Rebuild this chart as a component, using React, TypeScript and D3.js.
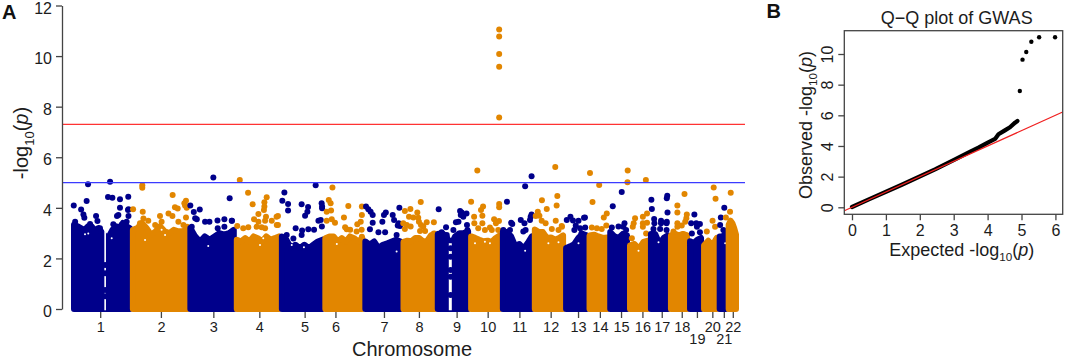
import React, { useRef, useEffect } from 'react';
import * as d3 from 'd3';

const BLUE = '#00008b';
const ORANGE = '#e28600';
const INK = '#1c1c1c';
const AXIS = '#444444';
const FONT = '"Liberation Sans", Arial, sans-serif';

// genotyped span of each chromosome in Mb
const chromLabels = ['1', '2', '3', '4', '5', '6', '7', '8', '9', '10', '11', '12', '13', '14', '15', '16', '17', '18', '19', '20', '21', '22'];
const chromLengths = [256, 250, 202, 196, 189, 174, 166, 149, 145, 138, 139, 136, 102, 90, 86, 91, 87, 83, 61, 68, 39, 58];
const chromTicks = [127, 391, 619, 819, 1016, 1150, 1361, 1513, 1677, 1812, 1950, 2086, 2205, 2300, 2392, 2485, 2569, 2656, 2722, 2789, 2839, 2878];

// upper edge of the dense cloud along each chromosome
const chromTops = [
  [3.33, 3.27, 3.2, 3.13, 3.27, 3.27, 3.11, 3.2, 3.03, 2.87, 2.87, 3.13, 3.27, 3.2, 3.4, 3.27, 3.2],
  [3.13, 3.2, 3.4, 3.2, 2.94, 3.07, 3.27, 3.07, 3.0, 3.13, 3.07, 3.07, 3.2],
  [3.2, 2.87, 2.67, 2.87, 2.74, 2.87, 3.0, 2.94, 3.0, 3.13],
  [2.74, 2.67, 2.8, 2.67, 2.87, 2.8, 2.67, 2.87, 2.74, 2.8, 2.87],
  [2.87, 2.74, 2.41, 2.54, 2.41, 2.54, 2.41, 2.54, 2.67, 2.74],
  [2.8, 2.87, 2.87, 2.67, 2.8, 2.67, 2.87, 2.8, 2.67, 2.8],
  [2.67, 2.54, 2.67, 2.41, 2.54, 2.6, 2.67, 2.74, 2.67],
  [2.65, 2.7, 2.68, 2.81, 2.81, 2.68, 2.68, 2.91, 2.97],
  [2.97, 3.0, 2.87, 2.52, 2.87, 3.0, 3.0, 3.07],
  [2.87, 2.81, 2.74, 2.68, 2.7, 2.65, 2.81, 2.91],
  [3.04, 3.04, 2.87, 2.48, 2.57, 2.39, 2.61, 2.87],
  [3.14, 3.04, 3.04, 2.81, 2.83, 2.74, 2.81, 2.91],
  [2.41, 2.48, 2.57, 2.81, 2.97, 2.91],
  [2.91, 2.94, 2.87, 2.81, 2.83],
  [3.04, 2.87, 2.81, 2.97, 2.91],
  [2.52, 2.57, 2.38, 2.65, 2.7],
  [2.97, 2.97, 2.57, 2.81, 2.91],
  [2.91, 2.97, 2.91, 2.97, 2.91],
  [2.68, 2.61, 2.74, 2.81],
  [2.52, 2.7, 2.52, 2.81],
  [2.87, 2.87, 3.0],
  [3.33, 3.49, 3.4, 3.2, 2.94]
];

// centromere holes in the cloud: from Mb, to Mb, top value
const centromeres = [[145, 152, 3.15], [1643, 1656, 2.6]];

// small unfilled specks near the top of the cloud: [cumulative Mb, -log10 p]
const specks = [
  [75, 2.99], [394, 3.13], [322, 2.73], [409, 2.93], [61, 2.96], [597, 2.49], [177, 2.8], [836, 2.8], [960, 2.53], [1013, 2.44],
  [1156, 2.57], [1416, 2.27], [822, 2.53], [1800, 2.66], [1822, 2.6], [1757, 2.6], [1975, 2.3], [2076, 2.6], [2120, 2.64],
  [2207, 2.6], [2468, 2.3], [2555, 2.64], [2845, 2.6]
];

// single variants standing clear of the cloud: [cumulative Mb, -log10 p]
const hits = [
  [12, 4.09], [44, 3.93], [54, 3.74], [58, 3.61], [74, 4.93], [68, 4.27], [109, 3.68], [115, 3.48], [170, 5.03], [161, 4.43],
  [180, 4.4], [213, 4.34], [213, 4.0], [206, 3.72], [200, 3.68], [248, 3.91], [250, 3.94], [249, 4.44], [250, 3.68], [242, 3.45],
  [220, 3.32], [184, 3.35], [18, 3.45], [83, 3.36], [126, 3.19], [148, 1.74], [148, 1.41], [148, 0.75], [148, 0.5],
  [310, 4.89], [310, 4.79], [270, 3.94], [312, 3.85], [442, 4.51], [452, 4.02], [464, 3.97], [496, 4.09], [500, 4.28], [493, 4.18], [503, 4.0],
  [500, 3.62], [424, 3.78], [441, 3.68], [387, 3.68], [315, 3.58], [336, 3.49], [300, 3.39], [394, 3.45], [467, 3.45], [489, 3.32], [505, 3.25], [366, 3.32],
  [519, 4.09], [534, 3.84], [560, 3.93], [547, 3.55], [540, 3.59], [522, 2.99], [525, 3.25], [583, 3.45], [602, 3.45], [637, 3.5], [667, 3.55], [699, 3.49],
  [619, 5.2], [638, 3.19], [667, 3.25], [690, 4.38], [700, 3.49],
  [734, 5.1], [770, 4.6], [790, 4.14], [851, 4.42], [841, 4.22], [841, 4.05], [839, 3.91], [815, 3.76], [796, 3.55], [848, 3.65], [844, 3.49], [873, 3.49],
  [894, 3.65], [900, 3.68], [895, 3.32], [900, 3.32], [749, 3.19], [771, 3.23], [807, 3.25], [829, 3.23], [723, 3.28], [844, 3.19], [815, 3.45],
  [928, 4.61], [919, 4.28], [944, 4.15], [944, 3.89], [1003, 4.14], [1031, 4.03], [1028, 3.85], [1018, 3.69], [977, 3.19], [1005, 3.1], [1032, 3.15], [1057, 3.13],
  [1076, 3.49], [1086, 3.52], [1064, 4.89], [938, 2.93], [967, 2.79], [1003, 2.93], [1091, 3.26], [1090, 4.18], [1092, 4.05], [1092, 3.98],
  [1137, 4.8], [1121, 4.31], [1129, 4.18], [1131, 3.89], [1112, 3.85], [1112, 3.49], [1134, 3.55], [1148, 3.41], [1206, 4.07], [1187, 3.62], [1245, 3.35],
  [1260, 3.45], [1265, 3.72], [1265, 4.05], [1192, 3.23], [1199, 3.15], [1214, 3.13], [1242, 3.06], [1264, 3.13], [1265, 2.86],
  [1283, 4.05], [1293, 3.94], [1303, 3.85], [1312, 3.72], [1312, 3.41], [1300, 3.15], [1337, 3.03], [1366, 3.03], [1369, 3.82], [1361, 3.72], [1354, 3.45],
  [1399, 3.72], [1405, 3.52], [1431, 3.28], [1428, 4.0], [1421, 3.3], [1425, 3.39], [1416, 2.93],
  [1452, 3.87], [1476, 3.95], [1506, 3.82], [1521, 4.23], [1470, 3.65], [1489, 3.62], [1510, 3.61], [1445, 3.39], [1460, 3.32], [1477, 3.26], [1522, 3.32],
  [1547, 3.43], [1532, 3.26], [1578, 3.43], [1513, 3.45], [1452, 3.16], [1540, 3.08], [1518, 3.08], [1578, 2.99],
  [1599, 3.94], [1631, 3.23], [1612, 3.03], [1634, 2.93], [1663, 3.12], [1685, 3.45], [1674, 3.43], [1692, 3.87], [1699, 3.82], [1706, 3.65], [1720, 3.78],
  [1695, 3.72], [1722, 3.32], [1724, 3.12], [1651, 2.4], [1651, 2.07], [1651, 1.54], [1651, 1.28], [1651, 0.55],
  [1767, 5.48], [1740, 4.24], [1753, 3.65], [1792, 4.05], [1783, 3.91], [1789, 3.69], [1754, 3.39], [1789, 3.39], [1840, 3.55], [1861, 3.48], [1848, 3.39],
  [1862, 4.15], [1862, 4.02], [1771, 3.19], [1822, 3.22], [1800, 3.12], [1830, 3.12], [1858, 3.12],
  [1862, 11.05], [1862, 10.77], [1862, 10.08], [1862, 9.58], [1862, 7.57],
  [1896, 4.24], [1914, 3.41], [1919, 3.36], [1956, 3.52], [1972, 3.39], [1996, 3.52], [1999, 3.65], [2003, 3.74], [1975, 4.85], [2003, 5.25], [1967, 3.06],
  [1977, 3.12], [1880, 3.12], [1909, 3.12],
  [2106, 5.61], [2115, 4.47], [2112, 4.09], [2048, 4.3], [2069, 3.95], [2030, 3.85], [2037, 3.69], [2021, 3.68], [2047, 3.49], [2064, 3.39], [2108, 3.49],
  [2134, 3.28], [2091, 3.16], [2120, 3.12], [2135, 3.25], [2138, 2.86],
  [2156, 3.52], [2172, 3.65], [2207, 3.49], [2231, 3.61], [2235, 3.62], [2214, 3.19], [2189, 3.12], [2236, 3.22], [2183, 3.5], [2220, 3.0], [2195, 3.3],
  [2257, 5.38], [2297, 4.9], [2268, 4.23], [2317, 3.62], [2330, 3.78], [2265, 3.22], [2287, 3.19], [2308, 3.16], [2328, 3.3],
  [2356, 4.06], [2395, 4.63], [2421, 5.48], [2420, 5.01], [2352, 3.22], [2381, 3.26], [2407, 3.39], [2402, 3.25], [2414, 3.12],
  [2500, 5.1], [2505, 3.78], [2453, 3.59], [2447, 3.39], [2443, 3.25], [2487, 3.65], [2487, 3.39], [2487, 3.25], [2505, 3.41], [2501, 2.99], [2439, 2.8],
  [2524, 4.32], [2526, 3.95], [2594, 3.82], [2591, 4.38], [2593, 4.48], [2536, 3.56], [2537, 3.39], [2566, 3.49], [2566, 3.39], [2591, 3.45], [2590, 3.39],
  [2533, 3.16], [2562, 3.16], [2590, 3.12],
  [2668, 4.55], [2637, 4.09], [2637, 3.82], [2637, 3.39], [2637, 3.25], [2656, 3.3], [2671, 3.45], [2676, 3.59], [2678, 3.74], [2620, 3.06],
  [2711, 3.74], [2697, 3.39], [2719, 3.39], [2722, 3.25], [2735, 3.36], [2700, 2.99], [2735, 3.03],
  [2795, 4.8], [2803, 4.36], [2790, 3.49], [2801, 3.25], [2765, 3.06],
  [2826, 3.62], [2841, 4.0], [2823, 3.32], [2837, 3.12],
  [2869, 4.6], [2866, 3.85], [2848, 3.62]
];

// Q-Q panel: the dense run drawn as a curve, the last points as dots
const qqCurveExpected = [0, 0.48, 1.47, 2.45, 3.04, 3.43, 3.73, 4.02, 4.22, 4.32, 4.51, 4.66, 4.81, 4.88];
const qqCurveObserved = [0.02, 0.5, 1.47, 2.47, 3.13, 3.56, 3.89, 4.24, 4.46, 4.76, 5.02, 5.22, 5.52, 5.63];
const qqTailExpected = [4.95, 5.03, 5.14, 5.29, 5.52, 5.99];
const qqTailObserved = [7.59, 9.63, 10.13, 10.8, 11.09, 11.09];

const manhattanTicks = [0, 2, 4, 6, 8, 10, 12];
const qqXTicks = [0, 1, 2, 3, 4, 5, 6];
const qqYTicks = [0, 2, 4, 6, 8, 10];

const styleAxis = (g, fontSize) => {
  g.selectAll('path').attr('stroke', AXIS).attr('stroke-width', 1.3);
  g.selectAll('line').attr('stroke', AXIS).attr('stroke-width', 1.3);
  g.selectAll('text').attr('fill', INK).style('font-family', FONT).style('font-size', fontSize + 'px');
};

// text with a subscripted 10 and an italic p
const logLabel = (sel, prefix, size) => {
  sel.attr('fill', INK).style('font-family', FONT).style('font-size', size + 'px').attr('text-anchor', 'middle');
  sel.append('tspan').text(prefix + 'log');
  sel.append('tspan').attr('dy', size * 0.28).style('font-size', size * 0.65 + 'px').text('10');
  sel.append('tspan').attr('dy', -size * 0.28).text('(');
  sel.append('tspan').style('font-style', 'italic').text('p');
  sel.append('tspan').text(')');
};

const App = () => {
  const ref = useRef(null);

  useEffect(() => {
    const svg = d3.select(ref.current);
    svg.selectAll('*').remove();

    // panel A
    const total = d3.sum(chromLengths);
    const chromEnds = d3.cumsum(chromLengths);
    const x = d3.scaleLinear().domain([0, total]).range([71, 739]);
    const y = d3.scaleLinear().domain([0, 12]).range([309, 5.5]);
    const r = 3;

    const area = d3.area().x(d => d[0]).y0(y(0)).y1(d => y(d[1]));
    chromTops.forEach((tops, i) => {
      const color = i % 2 === 0 ? BLUE : ORANGE;
      const start = i === 0 ? 0 : chromEnds[i - 1];
      const inChrom = p => p >= start && p < chromEnds[i];
      const left = x(start) + r;
      const right = i === chromTops.length - 1 ? x(chromEnds[i]) - r : x(chromEnds[i]);
      const step = d3.scaleLinear().domain([0, tops.length - 1]).range([left, right]);
      svg.append('path')
        .attr('d', area(tops.map((t, j) => [step(j), t])))
        .attr('fill', color)
        .attr('stroke', color)
        .attr('stroke-width', r * 2)
        .attr('stroke-linejoin', 'round');

      centromeres.filter(c => inChrom(c[0])).forEach(c => {
        svg.append('rect')
          .attr('x', x(c[0]))
          .attr('width', x(c[1]) - x(c[0]))
          .attr('y', y(c[2]))
          .attr('height', y(-0.05) - y(c[2]))
          .attr('fill', '#fff');
      });

      svg.selectAll('.speck' + i)
        .data(specks.filter(s => inChrom(s[0])))
        .enter().append('circle')
        .attr('cx', d => x(d[0]))
        .attr('cy', d => y(d[1]))
        .attr('r', 1)
        .attr('fill', '#fff');

      svg.selectAll('.hit' + i)
        .data(hits.filter(h => inChrom(h[0])))
        .enter().append('circle')
        .attr('cx', d => x(d[0]))
        .attr('cy', d => y(d[1]))
        .attr('r', r)
        .attr('fill', color);
    });

    // threshold lines
    [[7.3, '#ff3333'], [5, '#3b3bff']].forEach(([v, color]) => {
      svg.append('line')
        .attr('x1', 62).attr('x2', 745)
        .attr('y1', y(v)).attr('y2', y(v))
        .attr('stroke', color)
        .attr('stroke-width', 1.3);
    });

    const yAxis = svg.append('g')
      .attr('transform', 'translate(62,0)')
      .call(d3.axisLeft(y).tickValues(manhattanTicks).tickSize(6).tickPadding(4).tickSizeOuter(0));
    styleAxis(yAxis, 16);
    yAxis.selectAll('text').attr('dy', '0.48em');

    const xAxis = svg.append('g')
      .attr('transform', 'translate(0,312)')
      .call(d3.axisBottom(x).tickValues(chromTicks).tickFormat((d, i) => chromLabels[i]).tickSize(6).tickPadding(3.3));
    xAxis.select('.domain').remove();
    styleAxis(xAxis, 14.5);
    xAxis.selectAll('text').filter((d, i) => chromLabels[i] === '19' || chromLabels[i] === '21').attr('dy', '1.58em');

    svg.append('text')
      .attr('x', 412).attr('y', 356)
      .attr('text-anchor', 'middle')
      .attr('fill', INK)
      .style('font-family', FONT).style('font-size', '20px')
      .text('Chromosome');

    svg.append('text')
      .attr('transform', 'translate(28,143) rotate(-90)')
      .call(logLabel, '-', 20);

    svg.append('text').attr('x', 2).attr('y', 19).attr('fill', '#111')
      .style('font-family', FONT).style('font-size', '20px').style('font-weight', 'bold').text('A');

    // panel B
    const box = { left: 844.3, right: 1062.7, top: 30.7, bottom: 214.3 };
    const qx = d3.scaleLinear().domain([-0.227, 6.215]).range([box.left, box.right]);
    const qy = d3.scaleLinear().domain([-0.457, 11.52]).range([box.bottom, box.top]);

    svg.append('path')
      .datum(qqCurveExpected.map((e, i) => [e, qqCurveObserved[i]]))
      .attr('fill', 'none')
      .attr('stroke', '#000')
      .attr('stroke-width', 4.2)
      .attr('stroke-linecap', 'round')
      .attr('stroke-linejoin', 'round')
      .attr('d', d3.line().x(d => qx(d[0])).y(d => qy(d[1])));

    svg.selectAll('.tail')
      .data(qqTailExpected.map((e, i) => [e, qqTailObserved[i]]))
      .enter().append('circle')
      .attr('cx', d => qx(d[0]))
      .attr('cy', d => qy(d[1]))
      .attr('r', 2.2)
      .attr('fill', '#000');

    svg.append('line')
      .attr('x1', qx(-0.227)).attr('y1', qy(-0.227))
      .attr('x2', qx(6.215)).attr('y2', qy(6.215))
      .attr('stroke', '#f02020')
      .attr('stroke-width', 1.3);

    svg.append('rect')
      .attr('x', box.left).attr('y', box.top)
      .attr('width', box.right - box.left).attr('height', box.bottom - box.top)
      .attr('fill', 'none')
      .attr('stroke', AXIS)
      .attr('stroke-width', 1.3);

    const qxAxis = svg.append('g')
      .attr('transform', `translate(0,${box.bottom})`)
      .call(d3.axisBottom(qx).tickValues(qqXTicks).tickSize(6).tickPadding(4).tickFormat(d3.format('d')));
    qxAxis.select('.domain').remove();
    styleAxis(qxAxis, 16);

    const qyAxis = svg.append('g')
      .attr('transform', `translate(${box.left},0)`)
      .call(d3.axisLeft(qy).tickValues(qqYTicks).tickSize(6).tickPadding(4).tickFormat(d3.format('d')));
    qyAxis.select('.domain').remove();
    styleAxis(qyAxis, 16);
    qyAxis.selectAll('text')
      .attr('text-anchor', 'middle')
      .attr('x', 0).attr('dy', 0)
      .attr('transform', 'translate(-11,0) rotate(-90)');

    svg.append('text')
      .attr('x', 956.7).attr('y', 24)
      .attr('text-anchor', 'middle')
      .attr('fill', INK)
      .style('font-family', FONT).style('font-size', '18px')
      .text('Q\u2212Q plot of GWAS');

    svg.append('text')
      .attr('x', 961.7).attr('y', 256)
      .call(logLabel, 'Expected -', 18);

    svg.append('text')
      .attr('transform', 'translate(811.7,125) rotate(-90)')
      .call(logLabel, 'Observed -', 18);

    svg.append('text').attr('x', 766.5).attr('y', 18).attr('fill', '#111')
      .style('font-family', FONT).style('font-size', '20px').style('font-weight', 'bold').text('B');
  }, []);

  return (
    <svg
      ref={ref}
      width={1065}
      height={359}
      style={{ position: 'absolute', left: 0, top: 0, display: 'block', background: '#fff' }}
    />
  );
};

export default App;
